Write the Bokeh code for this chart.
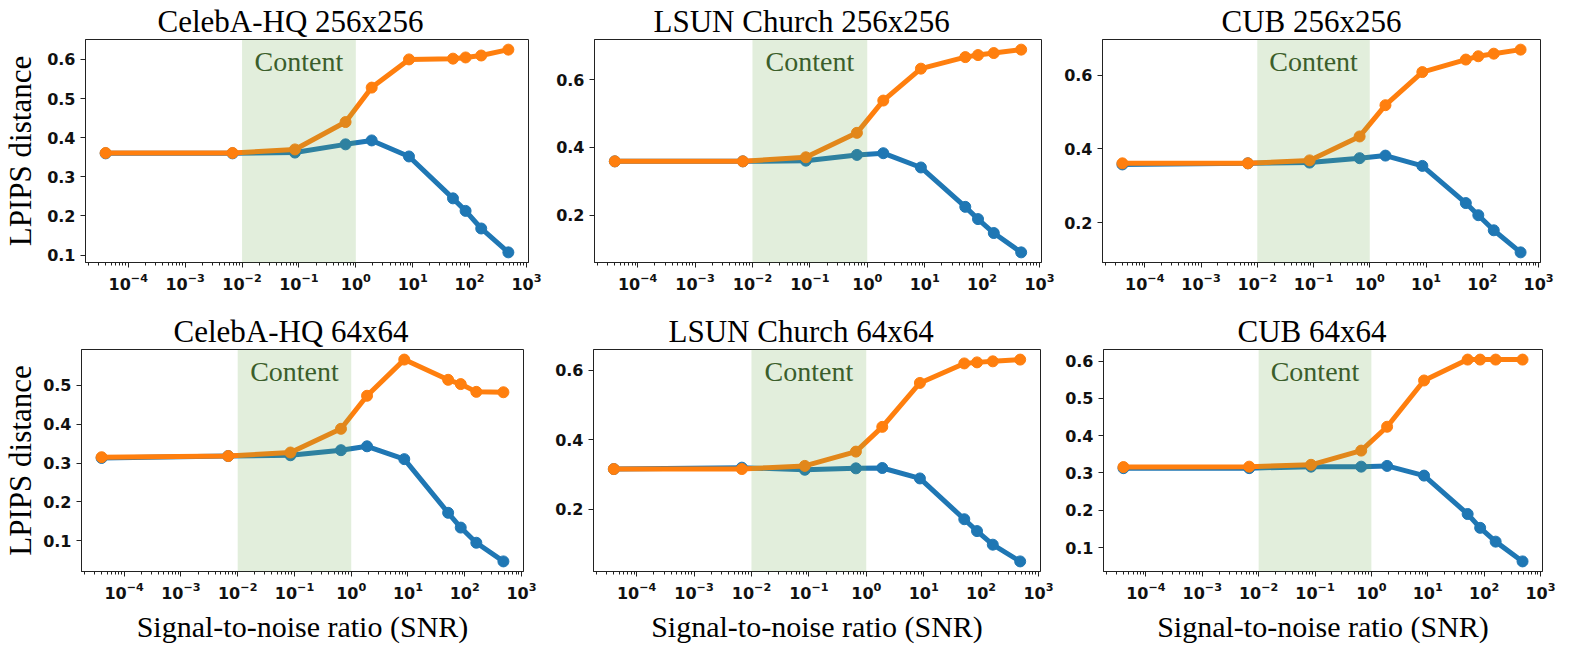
from bokeh.plotting import figure
from bokeh.layouts import row, column
from bokeh.models import (Range1d, FixedTicker, PrintfTickFormatter,
                          BoxAnnotation, Label, LogTickFormatter)
from bokeh.embed import file_html
from bokeh.resources import INLINE
import math

# ---------------- data ----------------
snr = [4e-5, 6.8e-3, 0.085, 0.66, 1.9, 8.6, 51, 85, 160, 480]
content_band = [0.01, 1.0]
content_center = 0.1

titles = ["CelebA-HQ 256x256", "LSUN Church 256x256", "CUB 256x256",
          "CelebA-HQ 64x64", "LSUN Church 64x64", "CUB 64x64"]

celeba256_blue = [0.360, 0.360, 0.362, 0.383, 0.393, 0.352, 0.245, 0.213, 0.168, 0.107]
celeba256_orange = [0.361, 0.361, 0.370, 0.440, 0.528, 0.600, 0.602, 0.605, 0.610, 0.625]
lsun256_blue = [0.359, 0.359, 0.361, 0.378, 0.383, 0.341, 0.225, 0.189, 0.148, 0.091]
lsun256_orange = [0.359, 0.359, 0.371, 0.443, 0.538, 0.632, 0.666, 0.672, 0.678, 0.688]
cub256_blue = [0.358, 0.361, 0.363, 0.375, 0.382, 0.354, 0.253, 0.220, 0.179, 0.119]
cub256_orange = [0.361, 0.361, 0.369, 0.434, 0.519, 0.609, 0.643, 0.652, 0.659, 0.670]
celeba64_blue = [0.313, 0.318, 0.320, 0.333, 0.343, 0.310, 0.172, 0.134, 0.095, 0.047]
celeba64_orange = [0.315, 0.318, 0.327, 0.388, 0.473, 0.566, 0.514, 0.503, 0.483, 0.482]
lsun64_blue = [0.316, 0.320, 0.314, 0.318, 0.319, 0.289, 0.172, 0.138, 0.099, 0.051]
lsun64_orange = [0.316, 0.316, 0.325, 0.366, 0.437, 0.563, 0.619, 0.622, 0.625, 0.630]
cub64_blue = [0.313, 0.313, 0.317, 0.317, 0.319, 0.293, 0.190, 0.153, 0.116, 0.063]
cub64_orange = [0.316, 0.317, 0.322, 0.360, 0.424, 0.548, 0.604, 0.604, 0.604, 0.604]

x_major_ticks = [1e-4, 1e-3, 1e-2, 1e-1, 1e0, 1e1, 1e2, 1e3]
yticks_a = [0.1, 0.2, 0.3, 0.4, 0.5, 0.6]
yticks_b = [0.2, 0.4, 0.6]
yticks_c = [0.1, 0.2, 0.3, 0.4, 0.5]

BLUE = "#1f77b4"
ORANGE = "#ff7f0e"
SERIF = "Liberation Serif"
SANS = "DejaVu Sans"

x_minor_ticks = [m * 10.0 ** e for e in range(-5, 3) for m in range(2, 10)]


def make_panel(title, blue, orange, yticks, geom, title_dx,
               ylabel=False, ylabel_standoff=6, xlabel=False):
    left, fw, right, top, fh, bottom = geom
    lx = [math.log10(v) for v in snr]
    lo, hi = min(lx), max(lx)
    pad = 0.05 * (hi - lo)
    ylo = min(blue + orange)
    yhi = max(blue + orange)
    ypad = 0.05 * (yhi - ylo)
    y0, y1 = ylo - ypad, yhi + ypad

    p = figure(width=left + fw + right, height=top + fh + bottom,
               x_axis_type="log",
               x_range=Range1d(10 ** (lo - pad), 10 ** (hi + pad)),
               y_range=Range1d(y0, y1),
               output_backend="svg", toolbar_location=None,
               min_border_left=left, min_border_right=right,
               min_border_top=top, min_border_bottom=bottom)
    p.title.text = title
    p.title.text_font = SERIF
    p.title.text_font_size = "31px"
    p.title.text_font_style = "normal"
    p.title.text_color = "#000000"
    p.title.align = "left"
    p.title.offset = title_dx
    p.title.standoff = 2
    p.xgrid.visible = False
    p.ygrid.visible = False
    p.outline_line_color = "#222222"
    p.outline_line_width = 1
    p.outline_line_alpha = 1
    p.background_fill_color = "white"
    p.border_fill_color = "white"

    for ax in (p.xaxis[0], p.yaxis[0]):
        ax.axis_line_color = "#222222"
        ax.major_tick_line_color = "#222222"
        ax.minor_tick_line_color = "#222222"
        ax.major_tick_out = 5
        ax.major_tick_in = 0
        ax.minor_tick_out = 3
        ax.minor_tick_in = 0
        ax.major_label_text_font = SANS
        ax.major_label_text_font_style = "bold"
        ax.major_label_text_font_size = "16px"
        ax.major_label_text_color = "#111111"
        ax.major_label_standoff = 5
        ax.axis_label_text_font = SERIF
        ax.axis_label_text_font_style = "normal"
        ax.axis_label_text_font_size = "31px"
        ax.axis_label_text_color = "#000000"

    p.xaxis.ticker = FixedTicker(ticks=x_major_ticks, minor_ticks=x_minor_ticks)
    p.xaxis.formatter = LogTickFormatter()
    p.yaxis.ticker = FixedTicker(ticks=yticks, minor_ticks=[])
    p.yaxis.formatter = PrintfTickFormatter(format="%.1f")
    if ylabel:
        p.yaxis.axis_label = "LPIPS distance"
        p.yaxis.axis_label_standoff = ylabel_standoff
    if xlabel:
        p.xaxis.axis_label = "Signal-to-noise ratio (SNR)"
        p.xaxis.axis_label_standoff = 8
        p.xaxis.axis_label_text_font_size = "30px"

    p.line(snr, blue, color=BLUE, line_width=5)
    p.scatter(snr, blue, size=11, color=BLUE)
    p.line(snr, orange, color=ORANGE, line_width=5)
    p.scatter(snr, orange, size=11, color=ORANGE)

    band = BoxAnnotation(left=content_band[0], right=content_band[1],
                         fill_color="#6ea850", fill_alpha=0.2, line_color=None)
    p.add_layout(band)
    lab = Label(x=content_center, y=y1 - 0.03 * (y1 - y0), text="Content",
                text_font=SERIF, text_font_size="28px", text_color="#3b5e2b",
                text_align="center", text_baseline="top")
    p.add_layout(lab)
    return p


# geometry: left border, frame width, right border, top border, frame height, bottom border
g1 = (82, 446, 20, 39, 223, 48)
g2 = (46, 447, 20, 39, 223, 48)
g3 = (40, 439, 16, 39, 223, 48)
g4 = (78, 445, 20, 39, 222, 74)
g5 = (50, 447, 20, 39, 222, 74)
g6 = (43, 439, 14, 39, 222, 74)

p1 = make_panel(titles[0], celeba256_blue, celeba256_orange, yticks_a, g1, 72,
                ylabel=True, ylabel_standoff=6)
p2 = make_panel(titles[1], lsun256_blue, lsun256_orange, yticks_b, g2, 59)
p3 = make_panel(titles[2], cub256_blue, cub256_orange, yticks_b, g3, 119)
p4 = make_panel(titles[3], celeba64_blue, celeba64_orange, yticks_c, g4, 92,
                ylabel=True, ylabel_standoff=2, xlabel=True)
p5 = make_panel(titles[4], lsun64_blue, lsun64_orange, yticks_b, g5, 75, xlabel=True)
p6 = make_panel(titles[5], cub64_blue, cub64_orange, yticks_a, g6, 134, xlabel=True)

layout = column(row(p1, p2, p3), row(p4, p5, p6))
open("out.html", "w").write(file_html(layout, INLINE))
